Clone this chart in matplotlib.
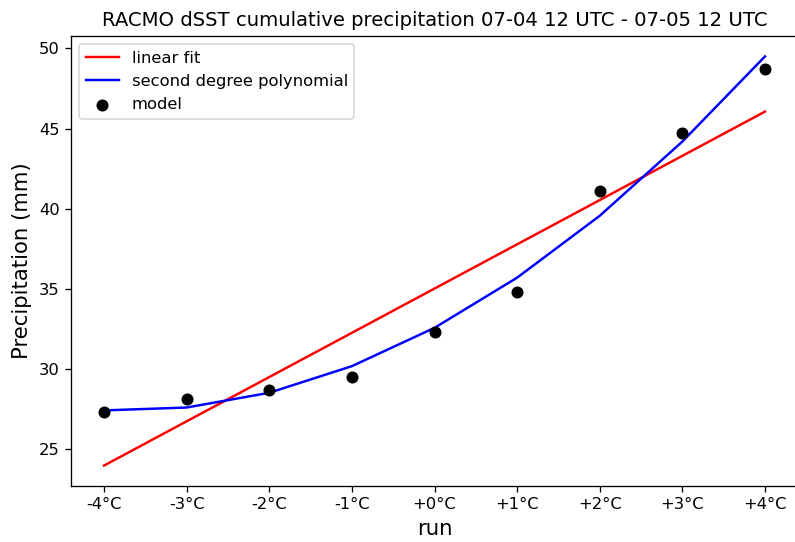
import matplotlib
matplotlib.use('Agg')
import matplotlib.pyplot as plt

runs = ['-4°C', '-3°C', '-2°C', '-1°C', '+0°C', '+1°C', '+2°C', '+3°C', '+4°C']
dsst = [-4, -3, -2, -1, 0, 1, 2, 3, 4]
model = [27.30, 28.11, 28.67, 29.48, 32.28, 34.83, 41.10, 44.71, 48.69]
linear_fit = [23.98, 26.74, 29.50, 32.26, 35.02, 37.78, 40.54, 43.30, 46.06]
poly_fit = [27.42, 27.60, 28.52, 30.18, 32.57, 35.70, 39.56, 44.19, 49.50]

DPI = 118
fig = plt.figure(figsize=(795 / DPI, 542 / DPI), dpi=DPI)
ax = fig.add_axes([71 / 795, 56 / 542, 727 / 795, 450 / 542])

ax.plot(dsst, linear_fit, color='red', label='linear fit')
ax.plot(dsst, poly_fit, color='blue', label='second degree polynomial')
ax.scatter(dsst, model, color='black', s=40, label='model', zorder=3)

ax.set_xticks(dsst)
ax.set_xticklabels(runs)
ax.set_xlabel('run', fontsize=13)
ax.set_ylabel('Precipitation (mm)', fontsize=13)
ax.set_title('RACMO dSST cumulative precipitation 07-04 12 UTC - 07-05 12 UTC', fontsize=12)
ax.legend(loc='upper left')

fig.savefig('out.png', dpi=DPI)
